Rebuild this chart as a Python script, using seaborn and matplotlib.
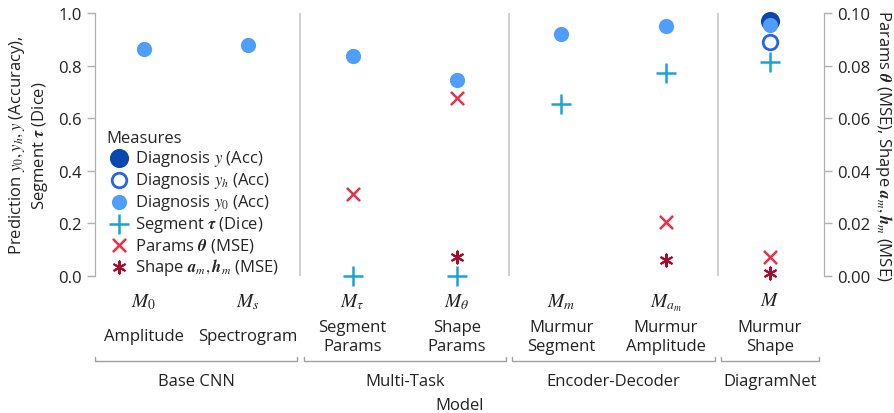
import numpy as np
import pandas as pd
import matplotlib
matplotlib.use('Agg')
import matplotlib.pyplot as plt
import matplotlib.transforms as mtransforms
import seaborn as sns

# Modelos e grupos
models = ['$M_0$', '$M_s$', r'$M_\tau$', r'$M_\theta$', '$M_m$', '$M_{a_m}$', '$M$']
names = ['Amplitude', 'Spectrogram', 'Segment\nParams', 'Shape\nParams',
         'Murmur\nSegment', 'Murmur\nAmplitude', 'Murmur\nShape']
groups = ['Base CNN', 'Multi-Task', 'Encoder-Decoder', 'DiagramNet']
group_span = [(0, 1), (2, 3), (4, 5), (6, 6)]

nan = np.nan
# eixo esquerdo (Acc / Dice)
diag_y = [nan, nan, nan, nan, nan, nan, 0.971]
diag_yh = [nan, nan, nan, nan, nan, nan, 0.891]
diag_y0 = [0.863, 0.878, 0.838, 0.746, 0.920, 0.952, 0.954]
seg_tau = [nan, nan, 0.0, 0.0, 0.654, 0.772, 0.813]
# eixo direito (MSE)
params_theta = [nan, nan, 0.0312, 0.0676, nan, 0.0204, 0.0071]
shape_am = [nan, nan, nan, 0.0071, nan, 0.0062, 0.0012]

sns.set_style('white')
plt.rcParams['font.family'] = ['Open Sans', 'DejaVu Sans']
plt.rcParams['mathtext.fontset'] = 'stix'
plt.rcParams['font.size'] = 12

x = np.arange(len(models))
df = pd.DataFrame({'x': x, 'y': diag_y, 'yh': diag_yh, 'y0': diag_y0,
                   'tau': seg_tau, 'theta': params_theta, 'shape': shape_am})

fig, ax = plt.subplots(figsize=(8.95, 4.14), dpi=100)
fig.subplots_adjust(left=0.106, right=0.921, top=0.966, bottom=0.331)
ax2 = ax.twinx()

grey = '#b0b0b0'
txt = '#222222'
sns.scatterplot(data=df, x='x', y='y', ax=ax, color='#0b47b0', s=190, linewidth=0,
                label='Diagnosis $y$ (Acc)', legend=False, zorder=3, clip_on=False)
sns.scatterplot(data=df, x='x', y='yh', ax=ax, facecolor='white', edgecolor='#2563eb',
                s=110, linewidth=2, label='Diagnosis $y_h$ (Acc)', legend=False, zorder=3,
                clip_on=False)
sns.scatterplot(data=df, x='x', y='y0', ax=ax, color='#4f9dfc', s=120, linewidth=0,
                label='Diagnosis $y_0$ (Acc)', legend=False, zorder=4, clip_on=False)
sns.scatterplot(data=df, x='x', y='tau', ax=ax, color='#1aa3d4', marker='+', s=200,
                linewidth=1.8, label=r'Segment $\boldsymbol{\tau}$ (Dice)', legend=False,
                zorder=3, clip_on=False)
sns.scatterplot(data=df, x='x', y='theta', ax=ax2, color='#e83349', marker='x', s=90,
                linewidth=1.8, label=r'Params $\boldsymbol{\theta}$ (MSE)', legend=False,
                zorder=3, clip_on=False)
sns.scatterplot(data=df, x='x', y='shape', ax=ax2, color='#a10f2d', marker=(6, 2, 0), s=75,
                linewidth=1.5, label=r'Shape $\boldsymbol{a}_m, \boldsymbol{h}_m$ (MSE)',
                legend=False, zorder=3, clip_on=False)

ax.set_xlim(-0.47, 6.52)
ax.set_ylim(0, 1.0)
ax2.set_ylim(0, 0.10)
ax.set_yticks(np.arange(0, 1.01, 0.2))
ax2.set_yticks(np.arange(0, 0.101, 0.02))
ax.set_yticklabels([f'{v:.1f}' for v in np.arange(0, 1.01, 0.2)])
ax2.set_yticklabels([f'{v:.2f}' for v in np.arange(0, 0.101, 0.02)])

for a in (ax, ax2):
    for s in ['top', 'bottom']:
        a.spines[s].set_visible(False)
    a.spines['left'].set_color(grey)
    a.spines['right'].set_color(grey)
    a.tick_params(axis='y', colors=grey, labelcolor=txt, length=6, width=1, labelsize=12)

ax.set_xticks(x)
ax.set_xticklabels(models, fontsize=14)
ax.tick_params(axis='x', length=0, pad=11, labelcolor=txt)
ax.set_xlabel('')
ax.set_ylabel('Prediction $y_0, y_h, y$ (Accuracy),\nSegment $\\boldsymbol{\\tau}$ (Dice)',
              fontsize=12, labelpad=6, color=txt)
ax2.set_ylabel(r'Params $\boldsymbol{\theta}$ (MSE), Shape $\boldsymbol{a}_m, \boldsymbol{h}_m$ (MSE)',
               fontsize=12, rotation=270, labelpad=17, color=txt)
ax2.set_xlabel('')

# separadores verticais
for b in [1.5, 3.5, 5.5]:
    ax.axvline(b, color='#c8c8c8', lw=1.2, zorder=0)

trans = mtransforms.blended_transform_factory(ax.transData, ax.transAxes)
for i, n in enumerate(names):
    ax.text(i, -0.23, n, transform=trans, ha='center', va='center',
            fontsize=12, color=txt, linespacing=1.2)

for g, (a0, a1) in zip(groups, group_span):
    xs = [a0 - 0.47, a0 - 0.47, a1 + 0.47, a1 + 0.47]
    ys = [-0.308, -0.325, -0.325, -0.308]
    ax.plot(xs, ys, transform=trans, color='#a0a0a0', lw=1, clip_on=False)
    ax.text((a0 + a1) / 2, -0.40, g, transform=trans, ha='center', va='center',
            fontsize=12, color=txt)
ax.text(0.5, -0.49, 'Model', transform=ax.transAxes, ha='center', va='center',
        fontsize=12, color=txt)

h1, l1 = ax.get_legend_handles_labels()
h2, l2 = ax2.get_legend_handles_labels()
leg = ax2.legend(h1 + h2, l1 + l2, title='Measures', loc='upper left',
                 bbox_to_anchor=(0.0, 0.6), frameon=False, fontsize=12,
                 title_fontsize=12, handletextpad=0.2, labelspacing=0.12,
                 borderaxespad=0.3, handlelength=1.5)
leg._legend_box.align = 'left'

fig.savefig('out.png', dpi=100)
